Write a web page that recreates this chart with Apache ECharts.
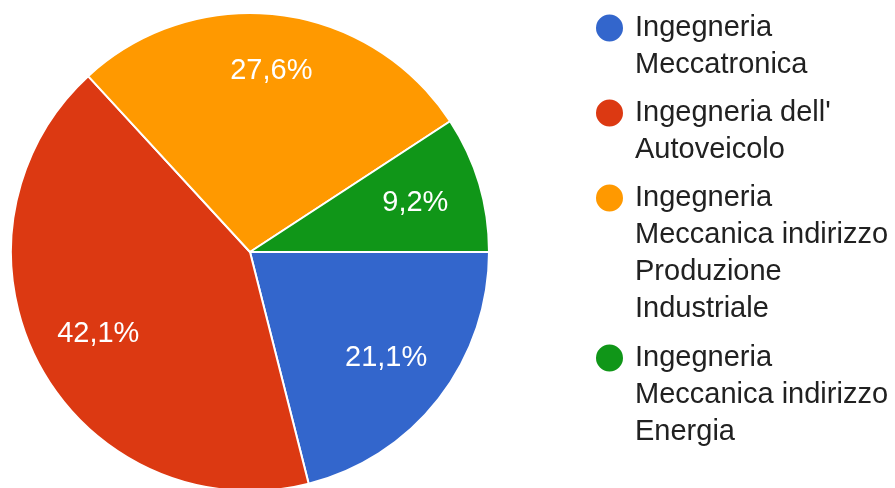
<!DOCTYPE html>
<html>
<head>
<meta charset="utf-8">
<script src="https://cdn.jsdelivr.net/npm/echarts@6/dist/echarts.min.js"></script>
<style>
  html, body { margin: 0; padding: 0; background: #fff; }
  #chart { width: 895px; height: 488px; }
</style>
</head>
<body>
<div id="chart"></div>
<script>
// Course names (legend lines already broken where they wrap)
const categories = [
  'Ingegneria\nMeccatronica',
  "Ingegneria dell'\nAutoveicolo",
  'Ingegneria\nMeccanica indirizzo\nProduzione\nIndustriale',
  'Ingegneria\nMeccanica indirizzo\nEnergia'
];
// Number of answers per course
const counts = [16, 32, 21, 7];
const colors = ['#3366cc', '#dc3912', '#ff9900', '#109618'];

const FONT = '"Liberation Sans", Arial, sans-serif';
const FS = 29;
const LINE = 37;
const CX = 250, CY = 252, R = 239;

const pieData = categories.map((name, i) => ({ name, value: counts[i] }));
const fmtPct = p => p.percent.toFixed(1).replace('.', ',') + '%';

// Each legend entry is its own legend; blank lines above the name keep
// the dot level with the first text line.
const dotCenters = [28, 113, 198, 358];
const legends = categories.map((name, i) => {
  const lines = name.split('\n').length;
  const boxH = (2 * lines - 1) * LINE;
  return {
    orient: 'vertical',
    left: 594,
    top: dotCenters[i] - boxH / 2,
    padding: 0,
    itemWidth: 29,
    itemHeight: 29,
    icon: 'circle',
    selectedMode: false,
    data: [name],
    formatter: n => '\n'.repeat(lines - 1) + n,
    textStyle: {
      fontFamily: FONT,
      fontSize: FS,
      color: '#212121',
      lineHeight: LINE,
      padding: [0, 0, 0, 6]
    }
  };
});

const chart = echarts.init(document.getElementById('chart'), null, { renderer: 'canvas' });
chart.setOption({
  animation: false,
  color: colors,
  legend: legends,
  series: [
    {
      type: 'pie',
      center: [CX, CY],
      radius: [0, R],
      startAngle: 0,
      clockwise: true,
      percentPrecision: 1,
      silent: true,
      itemStyle: { borderColor: '#fff', borderWidth: 2 },
      label: { show: false },
      labelLine: { show: false },
      data: pieData
    },
    {
      // label ring: places the percentage text at about 0.7 of the radius
      type: 'pie',
      center: [CX, CY],
      radius: [100, R],
      startAngle: 0,
      clockwise: true,
      percentPrecision: 1,
      silent: true,
      itemStyle: { color: 'rgba(0,0,0,0)', borderWidth: 0 },
      label: {
        show: true,
        position: 'inside',
        formatter: fmtPct,
        color: '#fff',
        fontFamily: FONT,
        fontSize: FS
      },
      labelLayout: p => (p.dataIndex === 2 ? { dy: -10 } : {}),
      labelLine: { show: false },
      data: pieData
    }
  ]
});
</script>
</body>
</html>
